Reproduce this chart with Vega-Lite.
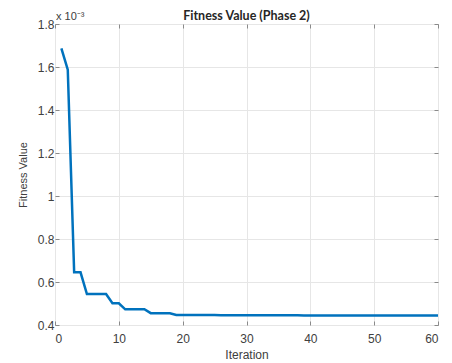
{
  "$schema": "https://vega.github.io/schema/vega-lite/v6.json",
  "width": 383,
  "height": 301,
  "autosize": "none",
  "padding": {"left": 55, "top": 24, "right": 14, "bottom": 38},
  "background": "white",
  "title": {"text": "Fitness Value (Phase 2)", "fontSize": 12.5, "font": "Lato", "fontWeight": "bold", "color": "#262626", "offset": 3, "dy": 24, "anchor": "middle", "baseline": "alphabetic"},
  "config": {
    "view": {"stroke": "#8a8a8a", "strokeWidth": 1},
    "axis": {"labelFont": "Liberation Sans", "titleFont": "Liberation Sans", "labelColor": "#404040", "titleColor": "#404040", "labelFontSize": 12, "titleFontSize": 12, "titleFontWeight": "normal", "domainColor": "#8a8a8a", "tickColor": "#8a8a8a", "gridColor": "#e6e6e6", "tickSize": -4}
  },
  "data": {"values": [
    {"iteration": 1, "fitness": 0.001687},
    {"iteration": 2, "fitness": 0.001588},
    {"iteration": 3, "fitness": 0.000645},
    {"iteration": 4, "fitness": 0.000645},
    {"iteration": 5, "fitness": 0.000544},
    {"iteration": 6, "fitness": 0.000544},
    {"iteration": 7, "fitness": 0.000544},
    {"iteration": 8, "fitness": 0.000544},
    {"iteration": 9, "fitness": 0.000501},
    {"iteration": 10, "fitness": 0.000501},
    {"iteration": 11, "fitness": 0.000473},
    {"iteration": 12, "fitness": 0.000473},
    {"iteration": 13, "fitness": 0.000473},
    {"iteration": 14, "fitness": 0.000473},
    {"iteration": 15, "fitness": 0.000455},
    {"iteration": 16, "fitness": 0.000455},
    {"iteration": 17, "fitness": 0.000455},
    {"iteration": 18, "fitness": 0.000455},
    {"iteration": 19, "fitness": 0.0004465},
    {"iteration": 20, "fitness": 0.0004462},
    {"iteration": 21, "fitness": 0.0004462},
    {"iteration": 22, "fitness": 0.0004462},
    {"iteration": 23, "fitness": 0.0004462},
    {"iteration": 24, "fitness": 0.0004462},
    {"iteration": 25, "fitness": 0.0004462},
    {"iteration": 26, "fitness": 0.0004456},
    {"iteration": 27, "fitness": 0.0004456},
    {"iteration": 28, "fitness": 0.0004456},
    {"iteration": 29, "fitness": 0.0004456},
    {"iteration": 30, "fitness": 0.0004456},
    {"iteration": 31, "fitness": 0.0004456},
    {"iteration": 32, "fitness": 0.0004456},
    {"iteration": 33, "fitness": 0.0004449},
    {"iteration": 34, "fitness": 0.0004449},
    {"iteration": 35, "fitness": 0.0004449},
    {"iteration": 36, "fitness": 0.0004449},
    {"iteration": 37, "fitness": 0.0004449},
    {"iteration": 38, "fitness": 0.0004449},
    {"iteration": 39, "fitness": 0.0004444},
    {"iteration": 40, "fitness": 0.0004444},
    {"iteration": 41, "fitness": 0.0004444},
    {"iteration": 42, "fitness": 0.0004444},
    {"iteration": 43, "fitness": 0.0004444},
    {"iteration": 44, "fitness": 0.0004444},
    {"iteration": 45, "fitness": 0.0004444},
    {"iteration": 46, "fitness": 0.0004442},
    {"iteration": 47, "fitness": 0.0004442},
    {"iteration": 48, "fitness": 0.0004442},
    {"iteration": 49, "fitness": 0.0004442},
    {"iteration": 50, "fitness": 0.0004442},
    {"iteration": 51, "fitness": 0.0004440},
    {"iteration": 52, "fitness": 0.0004440},
    {"iteration": 53, "fitness": 0.0004440},
    {"iteration": 54, "fitness": 0.0004440},
    {"iteration": 55, "fitness": 0.0004440},
    {"iteration": 56, "fitness": 0.0004438},
    {"iteration": 57, "fitness": 0.0004438},
    {"iteration": 58, "fitness": 0.0004438},
    {"iteration": 59, "fitness": 0.0004438},
    {"iteration": 60, "fitness": 0.0004438}
  ]},
  "layer": [
    {
      "mark": {"type": "line", "color": "#0072BD", "strokeWidth": 2.5, "clip": true},
      "encoding": {
        "x": {"field": "iteration", "type": "quantitative", "scale": {"domain": [0, 60], "nice": false, "zero": false},
              "axis": {"orient": "bottom", "title": "Iteration", "values": [0, 10, 20, 30, 40, 50, 60], "grid": true, "labelPadding": 12, "titlePadding": 5, "domain": false}},
        "y": {"field": "fitness", "type": "quantitative", "scale": {"domain": [0.0004, 0.0018], "nice": false, "zero": false},
              "axis": {"orient": "left", "title": "Fitness Value", "titleFontSize": 11, "values": [0.0004, 0.0006, 0.0008, 0.001, 0.0012, 0.0014, 0.0016, 0.0018], "labelExpr": "format(datum.value*1000, '.2~f')", "grid": true, "labelPadding": 5, "titlePadding": 9, "domain": false}}
      }
    },
    {
      "mark": {"type": "line", "opacity": 0},
      "encoding": {
        "x": {"field": "iteration", "type": "quantitative",
              "axis": {"orient": "top", "title": null, "labels": false, "values": [0, 10, 20, 30, 40, 50, 60], "grid": false, "domain": false, "minExtent": 0, "maxExtent": 0, "labelPadding": 0}},
        "y": {"field": "fitness", "type": "quantitative",
              "axis": {"orient": "right", "title": null, "labels": false, "values": [0.0004, 0.0006, 0.0008, 0.001, 0.0012, 0.0014, 0.0016, 0.0018], "grid": false, "domain": false, "minExtent": 0, "maxExtent": 0, "labelPadding": 0}}
      }
    },
    {
      "data": {"values": [{"label": "x 10⁻³"}]},
      "mark": {"type": "text", "align": "left", "baseline": "alphabetic", "dy": -4, "dx": 1, "font": "Liberation Sans", "fontSize": 11, "color": "#404040"},
      "encoding": {
        "text": {"field": "label"},
        "x": {"datum": 0, "type": "quantitative", "axis": null},
        "y": {"datum": 0.0018, "type": "quantitative", "axis": null}
      }
    }
  ],
  "resolve": {"axis": {"x": "independent", "y": "independent"}}
}
